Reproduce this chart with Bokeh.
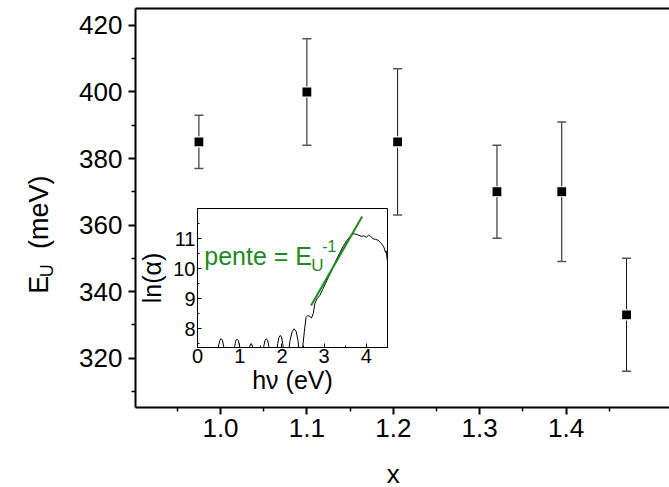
from math import pi
from bokeh.plotting import figure
from bokeh.models import (ColumnDataSource, Whisker, TeeHead, FixedTicker,
                          LinearAxis, Label)
from bokeh.embed import file_html
from bokeh.resources import INLINE

# ---------------- main data ----------------
x_vals = [0.975, 1.10, 1.205, 1.32, 1.395, 1.47]
eu_vals = [385, 400, 385, 370, 370, 333]
eu_err = [8, 16, 22, 14, 21, 17]

x_ticks = [1.0, 1.1, 1.2, 1.3, 1.4]
x_tick_labels = ["1.0", "1.1", "1.2", "1.3", "1.4"]
x_minor = [0.95, 1.05, 1.15, 1.25, 1.35, 1.45]
y_ticks = [320, 340, 360, 380, 400, 420]
y_tick_labels = ["320", "340", "360", "380", "400", "420"]
y_minor = [310, 330, 350, 370, 390, 410]

# ---------------- inset data ----------------
inset_hv = [0.46, 0.50, 0.53, 0.56, 0.59, 0.62, 0.66,
            0.84, 0.88, 0.91, 0.94, 0.97, 1.00, 1.03,
            1.19, 1.23, 1.26, 1.28, 1.31, 1.35,
            1.53, 1.57, 1.60, 1.63, 1.66, 1.69, 1.73,
            1.86, 1.90, 1.93, 1.96, 1.99, 2.02, 2.06,
            2.14, 2.19, 2.24, 2.29, 2.34, 2.38, 2.43,
            2.45, 2.49, 2.53, 2.57, 2.61, 2.65, 2.70, 2.74, 2.78, 2.83,
            2.90, 2.96, 3.03, 3.10, 3.18, 3.27, 3.36, 3.45, 3.54, 3.62,
            3.70, 3.76, 3.82, 3.88, 3.94, 4.00, 4.05, 4.10, 4.16, 4.22,
            4.28, 4.33, 4.38, 4.42, 4.45, 4.47, 4.49, 4.50]
inset_ln = [7.00, 7.45, 7.62, 7.67, 7.62, 7.42, 7.00,
            7.00, 7.42, 7.62, 7.65, 7.60, 7.40, 7.00,
            7.00, 7.38, 7.50, 7.50, 7.38, 7.00,
            7.00, 7.42, 7.62, 7.67, 7.62, 7.42, 7.00,
            7.00, 7.50, 7.72, 7.78, 7.72, 7.50, 7.00,
            7.00, 7.60, 7.90, 8.00, 7.90, 7.60, 7.00,
            7.00, 7.37, 7.90, 8.38, 8.44, 8.42, 8.36, 8.50, 8.85, 9.00,
            9.12, 9.30, 9.50, 9.72, 9.95, 10.25, 10.50, 10.75, 10.95, 11.08,
            11.17, 11.15, 11.12, 11.08, 11.10, 11.05, 11.12, 11.08, 11.00, 10.98,
            10.95, 10.88, 10.80, 10.70, 10.55, 10.60, 10.35, 10.25]
fit_hv = [2.69, 3.90]
fit_ln = [8.78, 11.74]

inset_x_ticks = [0, 1, 2, 3, 4]
inset_x_minor = [0.5, 1.5, 2.5, 3.5, 4.5]
inset_y_ticks = [8, 9, 10, 11]
inset_y_minor = [7.5, 8.5, 9.5, 10.5, 11.5]

FONT = "Liberation Sans"
GREEN = "#1c8c1c"
W, H = 669, 487

# ---------------- main figure ----------------
p = figure(width=W, height=H, x_range=(0.9016, 1.5197), y_range=(305.12, 425.11),
           output_backend="svg", toolbar_location=None,
           min_border_left=135, min_border_right=0, min_border_top=8,
           min_border_bottom=80)
p.outline_line_color = None
p.grid.visible = False
p.background_fill_color = "white"
p.border_fill_color = "white"

for ax in (p.xaxis[0], p.yaxis[0]):
    ax.axis_line_width = 2
    ax.axis_line_color = "black"
    ax.major_tick_line_width = 2
    ax.minor_tick_line_width = 1.5
    ax.major_tick_out = 7
    ax.major_tick_in = 0
    ax.minor_tick_out = 4
    ax.minor_tick_in = 0
    ax.major_label_text_font = FONT
    ax.major_label_text_font_size = "26px"
    ax.major_label_text_color = "black"

p.xaxis[0].ticker = FixedTicker(ticks=x_ticks, minor_ticks=x_minor)
p.xaxis[0].major_label_overrides = dict(zip(x_ticks, x_tick_labels))
p.xaxis[0].major_label_standoff = 4
p.yaxis[0].ticker = FixedTicker(ticks=y_ticks, minor_ticks=y_minor)
p.yaxis[0].major_label_overrides = dict(zip(y_ticks, y_tick_labels))
p.yaxis[0].major_label_standoff = 6

top_axis = LinearAxis(ticker=FixedTicker(ticks=[]), axis_line_width=2,
                      major_tick_out=0, minor_tick_out=0, major_tick_in=0,
                      minor_tick_in=0, major_label_standoff=0,
                      major_label_text_font_size="0px")
p.add_layout(top_axis, "above")

src = ColumnDataSource(dict(
    x=x_vals, y=eu_vals,
    upper=[v + e for v, e in zip(eu_vals, eu_err)],
    lower=[v - e for v, e in zip(eu_vals, eu_err)],
))
p.add_layout(Whisker(source=src, base="x", upper="upper", lower="lower",
                     line_color="#111111", line_width=1,
                     upper_head=TeeHead(size=9, line_color="#555555", line_width=1.5),
                     lower_head=TeeHead(size=9, line_color="#555555", line_width=1.5)))
p.scatter("x", "y", source=src, marker="square", size=10,
          fill_color="black", line_color="white", line_width=1.2)

# ---------------- inset figure (separate root, absolutely positioned) ----------------
IL, IT, IR, IB = 62, 4, 4, 56          # borders around the 190 x 139 inset frame
IW, IH = IL + 190 + IR, IT + 139 + IB
IX, IY = 135, 204                      # page position of the inset canvas
ins = figure(width=IW, height=IH, x_range=(0, 4.5), y_range=(7.377, 12.01),
             output_backend="svg", toolbar_location=None,
             min_border_left=IL, min_border_right=IR, min_border_top=IT,
             min_border_bottom=IB)
ins.grid.visible = False
ins.background_fill_color = "white"
ins.border_fill_color = None
ins.outline_line_color = "black"
ins.outline_line_width = 1

for ax in (ins.xaxis[0], ins.yaxis[0]):
    ax.axis_line_width = 1
    ax.major_tick_in = 4
    ax.major_tick_out = 0
    ax.minor_tick_in = 2
    ax.minor_tick_out = 0
    ax.major_tick_line_width = 1
    ax.minor_tick_line_width = 1
    ax.major_label_text_font = FONT
    ax.major_label_text_font_size = "20px"
    ax.major_label_text_color = "black"
    ax.axis_label_text_font = FONT
    ax.axis_label_text_font_size = "25px"
    ax.axis_label_text_font_style = "normal"
    ax.axis_label_text_color = "black"

ins.xaxis[0].ticker = FixedTicker(ticks=inset_x_ticks, minor_ticks=inset_x_minor)
ins.yaxis[0].ticker = FixedTicker(ticks=inset_y_ticks, minor_ticks=inset_y_minor)
ins.xaxis[0].major_label_standoff = 1
ins.yaxis[0].major_label_standoff = 2
ins.xaxis[0].axis_label = "h\u03bd (eV)"
ins.yaxis[0].axis_label = "ln(\u03b1)"
ins.xaxis[0].axis_label_standoff = 0
ins.yaxis[0].axis_label_standoff = 4

ins.line(inset_hv, inset_ln, line_color="black", line_width=1)
ins.line(fit_hv, fit_ln, line_color=GREEN, line_width=2)

g_kw = dict(x=0.16, y=10.44, text_font=FONT, text_color=GREEN,
            text_baseline="alphabetic", text_align="left")
ins.add_layout(Label(text="pente = E", text_font_size="25px", **g_kw))
ins.add_layout(Label(text="U", text_font_size="17px", x_offset=107, y_offset=-10, **g_kw))
ins.add_layout(Label(text="-1", text_font_size="16px", x_offset=118, y_offset=10, **g_kw))

ins.styles = {"position": "absolute", "left": f"{IX}px", "top": f"{IY}px"}

# ---------------- overlay for axis titles (frame = whole canvas) ----------------
txt = figure(width=W, height=H, x_range=(0, W), y_range=(0, H),
             output_backend="svg", toolbar_location=None,
             x_axis_location=None, y_axis_location=None, min_border=0)
txt.grid.visible = False
txt.outline_line_color = None
txt.background_fill_color = None
txt.border_fill_color = None

t_kw = dict(text_font=FONT, text_color="black", text_baseline="alphabetic")
txt.add_layout(Label(x=38, y=H - 293.3, text="E", angle=pi / 2,
                     text_font_size="27px", text_align="left", **t_kw))
txt.add_layout(Label(x=46.5, y=H - 276.7, text="U", angle=pi / 2,
                     text_font_size="18px", text_align="left", **t_kw))
txt.add_layout(Label(x=38, y=H - 248.5, text="(meV)", angle=pi / 2,
                     text_font_size="27px", text_align="left", **t_kw))
txt.add_layout(Label(x=392.7, y=H - 473, text="x",
                     text_font_size="26px", text_align="center", **t_kw))
txt.styles = {"position": "absolute", "left": "0px", "top": "0px",
              "pointer-events": "none"}

open("out.html", "w").write(file_html([p, ins, txt], INLINE))
